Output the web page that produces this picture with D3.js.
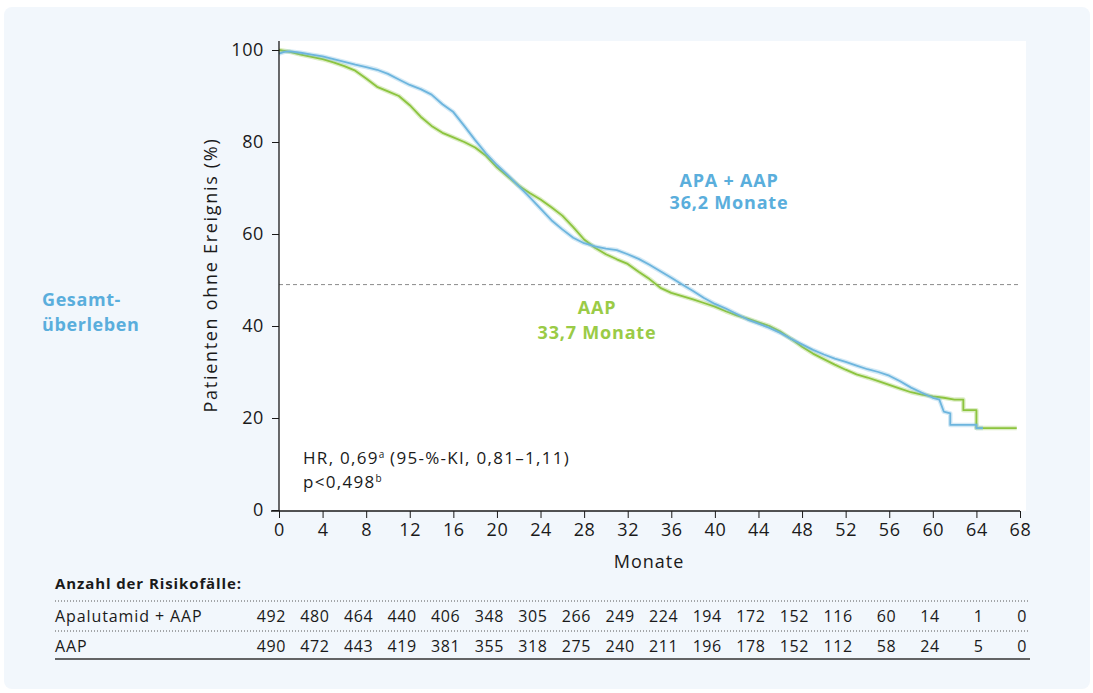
<!DOCTYPE html>
<html><head><meta charset="utf-8">
<script src="https://cdn.jsdelivr.net/npm/d3@7"></script>
<style>
html,body{margin:0;padding:0;background:#fff;}
svg text{font-family:"Open Sans","Noto Sans",sans-serif;}
</style></head>
<body>
<svg id="c" width="1093" height="693"></svg>
<script>
// ---- data ----
const monthTicks = [0,4,8,12,16,20,24,28,32,36,40,44,48,52,56,60,64,68];
const pctTicks = [0,20,40,60,80,100];
const apaMonths = [0,0.5,1,2,3,4,5,6,7,8,9,10,11,12,13,14,15,16,17,18,19,20,21,22,23,24,25,26,27,28,29,30,31,32,33,34,35,36,37,38,39,40,41,42,43,44,45,46,47,48,49,50,51,52,53,54,55,56,57,58,59,60,60.6,61,61.6,61.6,64,64,64.6];
const apaPct =    [99.2,99.6,99.7,99.4,99.0,98.6,98.0,97.4,96.8,96.3,95.7,94.8,93.6,92.4,91.5,90.3,88.2,86.5,83.5,80.4,77.5,75.0,72.8,70.4,68.0,65.5,63.0,61.0,59.2,58.0,57.3,56.8,56.5,55.6,54.6,53.3,51.9,50.5,49.0,47.6,46.1,44.8,43.8,42.6,41.4,40.5,39.6,38.5,37.2,36.0,34.8,33.8,32.9,32.2,31.4,30.6,30.0,29.2,28.0,26.6,25.5,24.4,24.0,21.4,21.0,18.5,18.5,17.8,17.8];
const aapMonths = [0,1,2,3,4,5,6,7,8,9,10,11,12,13,14,15,16,17,18,19,20,21,22,23,24,25,26,27,28,29,30,31,32,33,34,35,36,37,38,39,40,41,42,43,44,45,46,47,48,49,50,51,52,53,54,55,56,57,58,59,60,61,62,62.8,62.8,64,64,67.7];
const aapPct =    [100,99.6,99.0,98.5,98.0,97.3,96.5,95.5,93.8,92.0,91.0,90.0,88.0,85.5,83.5,82.0,81.0,80.0,78.8,77.0,74.5,72.5,70.5,68.9,67.5,65.8,64.0,61.5,58.8,57.0,55.6,54.5,53.5,51.8,50.2,48.3,47.2,46.5,45.8,45.0,44.2,43.2,42.3,41.6,40.8,40.0,38.8,37.2,35.5,34.0,32.8,31.6,30.5,29.5,28.8,28.0,27.2,26.4,25.6,25.1,24.7,24.4,24.0,24.0,21.7,21.7,17.8,17.8];
const medianPct = 49;
const riskLabels = ["Apalutamid + AAP","AAP"];
const riskApa = [492,480,464,440,406,348,305,266,249,224,194,172,152,116,60,14,1,0];
const riskAap = [490,472,443,419,381,355,318,275,240,211,196,178,152,112,58,24,5,0];

// ---- layout ----
const svg = d3.select("#c");
const L = 279, R = 1020, T = 50, B = 510;
const x = d3.scaleLinear().domain([0,68]).range([L,R]);
const y = d3.scaleLinear().domain([0,100]).range([B,T]);
const blue = "#5aaedc", green = "#9acb46";
const blueLine = "#6db5de", greenLine = "#8cc43e";
const ink = "#1a1a1a";

svg.append("rect").attr("x",4).attr("y",7).attr("width",1086).attr("height",682).attr("rx",8).attr("fill","#f2f7fc");
svg.append("rect").attr("x",L).attr("y",41).attr("width",1026-L).attr("height",B+1-41).attr("fill","#ffffff");

// median dashed line
svg.append("line").attr("x1",L).attr("x2",R).attr("y1",y(medianPct)).attr("y2",y(medianPct))
  .attr("stroke","#8a8a8a").attr("stroke-width",1).attr("stroke-dasharray","4,3");

// curves
const line = d3.line().x(d=>x(d[0])).y(d=>y(d[1])).curve(d3.curveLinear);
const aapData = aapMonths.map((m,i)=>[m,aapPct[i]]);
const apaData = apaMonths.map((m,i)=>[m,apaPct[i]]);
[[aapData,greenLine],[apaData,blueLine]].forEach(([d,c])=>{
  svg.append("path").datum(d).attr("d",line).attr("fill","none").attr("stroke",c).attr("stroke-opacity",0.3).attr("stroke-width",4.5).attr("stroke-linejoin","round");
  svg.append("path").datum(d).attr("d",line).attr("fill","none").attr("stroke",c).attr("stroke-width",1.8).attr("stroke-linejoin","round");
});

// axes
const fs = "18px", ls = "0.6px";
const ya = svg.append("g").attr("transform",`translate(${L},0)`)
  .call(d3.axisLeft(y).tickValues(pctTicks).tickSize(7).tickSizeOuter(0).tickPadding(8));
ya.select(".domain").remove();
ya.selectAll("text").attr("font-size",fs).attr("letter-spacing",ls).attr("fill",ink).style("font-family","'Open Sans',sans-serif");
ya.selectAll("line").attr("stroke",ink);
svg.append("line").attr("x1",L).attr("x2",L).attr("y1",41).attr("y2",B+1).attr("stroke",ink).attr("stroke-width",1.3);

const xa = svg.append("g").attr("transform",`translate(0,${B+1})`)
  .call(d3.axisBottom(x).tickValues(monthTicks).tickSize(7).tickSizeOuter(0).tickPadding(5));
xa.select(".domain").remove();
xa.selectAll("text").attr("font-size",fs).attr("letter-spacing",ls).attr("fill",ink).style("font-family","'Open Sans',sans-serif");
xa.selectAll("line").attr("stroke",ink);
svg.append("line").attr("x1",271).attr("x2",R).attr("y1",B+1).attr("y2",B+1).attr("stroke",ink).attr("stroke-width",1.3);

svg.append("text").attr("x",649).attr("y",568).attr("text-anchor","middle").attr("font-size",fs).attr("letter-spacing","1px").attr("fill",ink).text("Monate");
svg.append("text").attr("transform","translate(217,275) rotate(-90)").attr("text-anchor","middle").attr("font-size",fs).attr("letter-spacing","1.7px").attr("fill",ink).text("Patienten ohne Ereignis (%)");

// side label
const sideFs = "18px";
svg.append("text").attr("x",42).attr("y",306).attr("font-size",sideFs).attr("letter-spacing","0.6px").attr("font-weight","bold").attr("fill",blue).text("Gesamt-");
svg.append("text").attr("x",42).attr("y",331).attr("font-size",sideFs).attr("letter-spacing","0.6px").attr("font-weight","bold").attr("fill",blue).text("überleben");

// curve labels
function lab(t,xx,yy,c){ svg.append("text").attr("x",xx).attr("y",yy).attr("text-anchor","middle").attr("font-size","18px").attr("letter-spacing","0.8px").attr("font-weight","bold").attr("fill",c).text(t); }
lab("APA + AAP",729,187,blue);
lab("36,2 Monate",729,209,blue);
lab("AAP",597,314,green);
lab("33,7 Monate",597,339,green);

// HR text
const hr = svg.append("text").attr("x",303).attr("y",464).attr("font-size","17px").attr("letter-spacing","1.3px").attr("fill",ink);
hr.append("tspan").text("HR, 0,69");
hr.append("tspan").attr("font-size","10px").attr("letter-spacing","0px").attr("dy",-6).text("a");
hr.append("tspan").attr("dy",6).text(" (95-%-KI, 0,81–1,11)");
const pv = svg.append("text").attr("x",303).attr("y",488).attr("font-size","17px").attr("letter-spacing","1.3px").attr("fill",ink);
pv.append("tspan").text("p<0,498");
pv.append("tspan").attr("font-size","10px").attr("letter-spacing","0px").attr("dy",-6).text("b");

// risk table
svg.append("text").attr("x",55).attr("y",589).attr("font-size","15px").attr("letter-spacing","0.9px").attr("font-weight","bold").attr("fill",ink).text("Anzahl der Risikofälle:");
[601,631].forEach(yy=>svg.append("line").attr("x1",55).attr("x2",1030).attr("y1",yy).attr("y2",yy).attr("stroke","#555").attr("stroke-width",1).attr("stroke-dasharray","1,2"));
svg.append("line").attr("x1",55).attr("x2",1030).attr("y1",659).attr("y2",659).attr("stroke","#333").attr("stroke-width",1.5);
[[riskApa,622],[riskAap,652]].forEach(([vals,yy],r)=>{
  svg.append("text").attr("x",55).attr("y",yy).attr("font-size","16px").attr("letter-spacing","0.9px").attr("fill",ink).text(riskLabels[r]);
  svg.selectAll(null).data(vals).enter().append("text")
    .attr("x",(d,i)=>x(monthTicks[i])+7).attr("y",yy).attr("text-anchor","end")
    .attr("font-size","16px").attr("letter-spacing","0.6px").attr("fill",ink).text(d=>d);
});
</script>
</body></html>
